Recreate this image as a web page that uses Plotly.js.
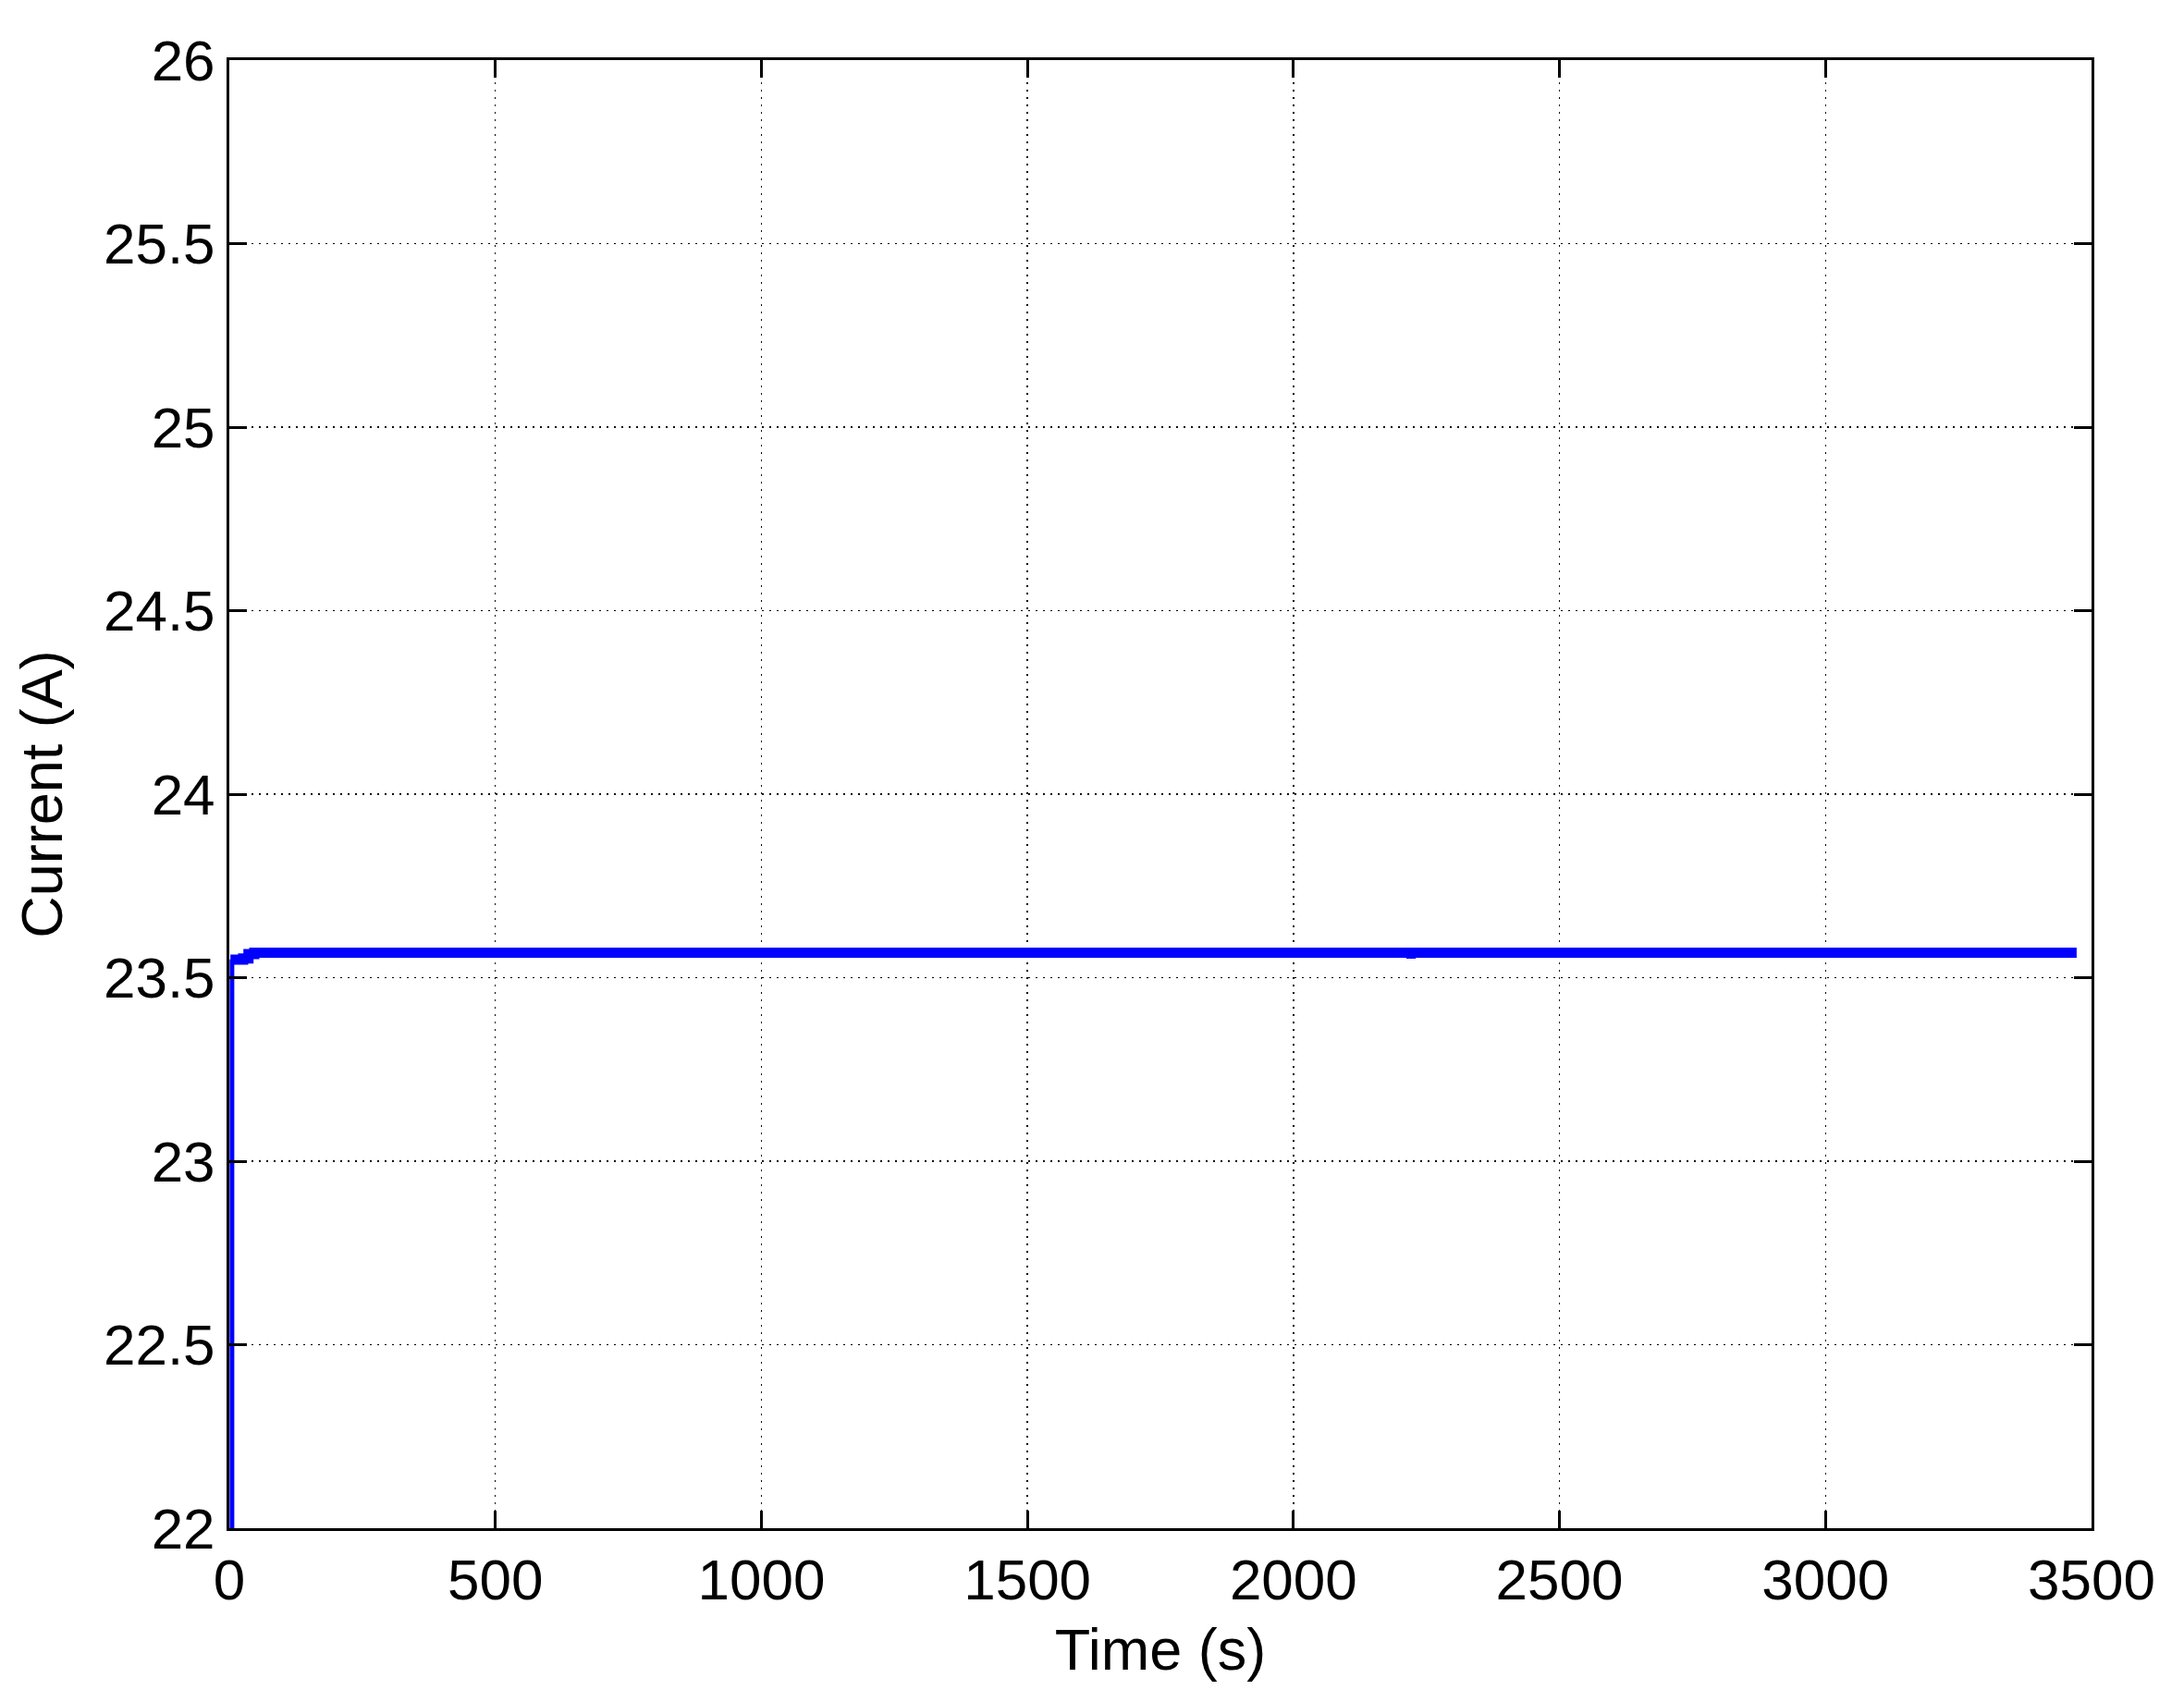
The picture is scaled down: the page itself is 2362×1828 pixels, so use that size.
<!DOCTYPE html>
<html>
<head>
<meta charset="utf-8">
<script src="https://cdn.plot.ly/plotly-3.0.1.min.js"></script>
<style>html,body{margin:0;padding:0;background:#fff;}</style>
</head>
<body>
<div id="chart" style="width:2362px;height:1828px;"></div>
<script>
// Initial rise (thin vertical)
const riseTime = [5, 5];
const riseCurrent = [21.0, 23.55];
// Main current trace (step shape)
const time = [2, 26, 36, 47, 3472];
const current = [23.549, 23.552, 23.564, 23.568, 23.568];
// Small dip near t = 2220 s
const dipTime = [2212, 2230];
const dipCurrent = [23.558, 23.558];

const xTicks = [0, 500, 1000, 1500, 2000, 2500, 3000, 3500];
const yTicks = [22, 22.5, 23, 23.5, 24, 24.5, 25, 25.5, 26];
const yTickText = ['22', '22.5', '23', '23.5', '24', '24.5', '25', '25.5', '26'];

const blue = '#0000ff';
const tickFont = {family: 'Liberation Sans, Arial, sans-serif', size: 62, color: '#000'};
const titleFont = {family: 'Liberation Sans, Arial, sans-serif', size: 63, color: '#000'};

const data = [
  {x: riseTime, y: riseCurrent, mode: 'lines', line: {color: blue, width: 5}, hoverinfo: 'skip'},
  {x: time, y: current, mode: 'lines', line: {color: blue, width: 11, shape: 'hv'}},
  {x: dipTime, y: dipCurrent, mode: 'lines', line: {color: blue, width: 5}}
];

const axisCommon = {
  showline: true, linecolor: '#000', linewidth: 3, mirror: 'ticks',
  ticks: 'inside', ticklen: 19, tickwidth: 3, tickcolor: '#000',
  showgrid: true, gridcolor: '#000', gridwidth: 1.5, griddash: '2px,6px',
  zeroline: false, tickfont: tickFont
};

const layout = {
  width: 2362, height: 1828,
  margin: {l: 248, r: 100, t: 65, b: 175},
  paper_bgcolor: '#fff', plot_bgcolor: '#fff',
  showlegend: false,
  font: tickFont,
  xaxis: Object.assign({}, axisCommon, {
    range: [0, 3500], tickvals: xTicks, ticktext: xTicks.map(String),
    title: {text: 'Time (s)', font: titleFont, standoff: 20}
  }),
  yaxis: Object.assign({}, axisCommon, {
    range: [22, 26], tickvals: yTicks, ticktext: yTickText,
    title: {text: 'Current (A)', font: titleFont, standoff: 24}
  })
};

Plotly.newPlot('chart', data, layout, {displayModeBar: false, staticPlot: true});
</script>
</body>
</html>
